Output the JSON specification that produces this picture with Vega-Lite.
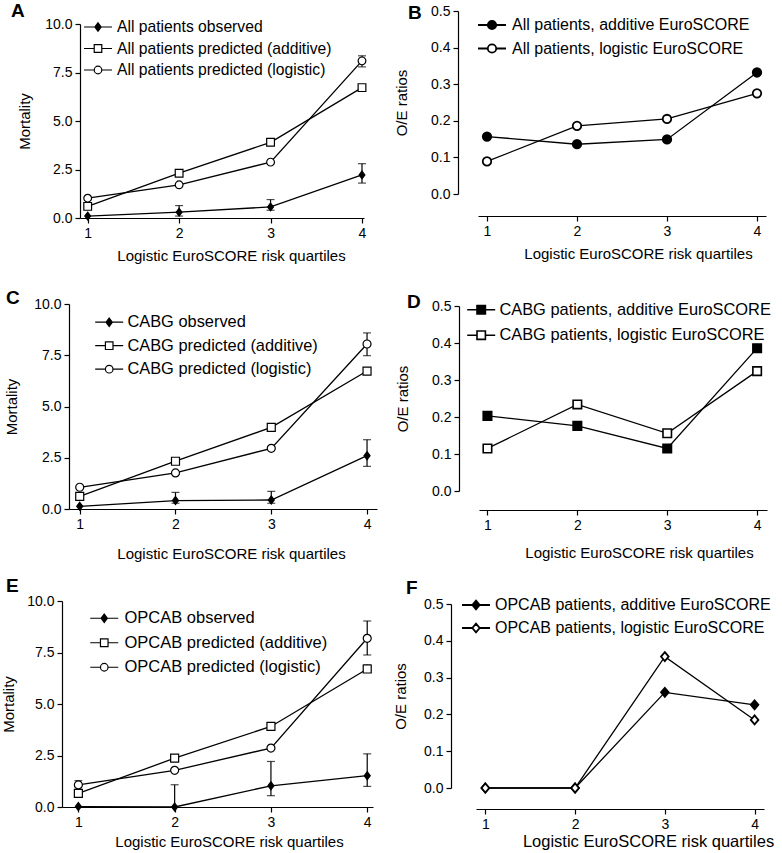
{
  "$schema": "https://vega.github.io/schema/vega-lite/v6.json",
  "background": "white",
  "padding": {"left": 1, "top": 2, "right": 0, "bottom": 0},
  "datasets": {
    "pts": [
      {"p": "A", "s": "All patients observed", "q": 1, "v": 0.1},
      {"p": "A", "s": "All patients observed", "q": 2, "v": 0.3},
      {"p": "A", "s": "All patients observed", "q": 3, "v": 0.57},
      {"p": "A", "s": "All patients observed", "q": 4, "v": 2.22},
      {"p": "A", "s": "All patients predicted (additive)", "q": 1, "v": 0.6},
      {"p": "A", "s": "All patients predicted (additive)", "q": 2, "v": 2.31},
      {"p": "A", "s": "All patients predicted (additive)", "q": 3, "v": 3.9},
      {"p": "A", "s": "All patients predicted (additive)", "q": 4, "v": 6.72},
      {"p": "A", "s": "All patients predicted (logistic)", "q": 1, "v": 1.02},
      {"p": "A", "s": "All patients predicted (logistic)", "q": 2, "v": 1.71},
      {"p": "A", "s": "All patients predicted (logistic)", "q": 3, "v": 2.88},
      {"p": "A", "s": "All patients predicted (logistic)", "q": 4, "v": 8.1},
      {"p": "B", "s": "All patients, additive EuroSCORE", "q": 1, "v": 0.157},
      {"p": "B", "s": "All patients, additive EuroSCORE", "q": 2, "v": 0.136},
      {"p": "B", "s": "All patients, additive EuroSCORE", "q": 3, "v": 0.149},
      {"p": "B", "s": "All patients, additive EuroSCORE", "q": 4, "v": 0.332},
      {"p": "B", "s": "All patients, logistic EuroSCORE", "q": 1, "v": 0.089},
      {"p": "B", "s": "All patients, logistic EuroSCORE", "q": 2, "v": 0.186},
      {"p": "B", "s": "All patients, logistic EuroSCORE", "q": 3, "v": 0.205},
      {"p": "B", "s": "All patients, logistic EuroSCORE", "q": 4, "v": 0.275},
      {"p": "C", "s": "CABG observed", "q": 1, "v": 0.13},
      {"p": "C", "s": "CABG observed", "q": 2, "v": 0.41},
      {"p": "C", "s": "CABG observed", "q": 3, "v": 0.44},
      {"p": "C", "s": "CABG observed", "q": 4, "v": 2.6},
      {"p": "C", "s": "CABG predicted (additive)", "q": 1, "v": 0.62},
      {"p": "C", "s": "CABG predicted (additive)", "q": 2, "v": 2.33},
      {"p": "C", "s": "CABG predicted (additive)", "q": 3, "v": 3.98},
      {"p": "C", "s": "CABG predicted (additive)", "q": 4, "v": 6.73},
      {"p": "C", "s": "CABG predicted (logistic)", "q": 1, "v": 1.06},
      {"p": "C", "s": "CABG predicted (logistic)", "q": 2, "v": 1.76},
      {"p": "C", "s": "CABG predicted (logistic)", "q": 3, "v": 2.96},
      {"p": "C", "s": "CABG predicted (logistic)", "q": 4, "v": 8.05},
      {"p": "D", "s": "CABG patients, additive EuroSCORE", "q": 1, "v": 0.203},
      {"p": "D", "s": "CABG patients, additive EuroSCORE", "q": 2, "v": 0.176},
      {"p": "D", "s": "CABG patients, additive EuroSCORE", "q": 3, "v": 0.115},
      {"p": "D", "s": "CABG patients, additive EuroSCORE", "q": 4, "v": 0.386},
      {"p": "D", "s": "CABG patients, logistic EuroSCORE", "q": 1, "v": 0.115},
      {"p": "D", "s": "CABG patients, logistic EuroSCORE", "q": 2, "v": 0.234},
      {"p": "D", "s": "CABG patients, logistic EuroSCORE", "q": 3, "v": 0.156},
      {"p": "D", "s": "CABG patients, logistic EuroSCORE", "q": 4, "v": 0.324},
      {"p": "E", "s": "OPCAB observed", "q": 1, "v": 0.02},
      {"p": "E", "s": "OPCAB observed", "q": 2, "v": 0},
      {"p": "E", "s": "OPCAB observed", "q": 3, "v": 1.03},
      {"p": "E", "s": "OPCAB observed", "q": 4, "v": 1.52},
      {"p": "E", "s": "OPCAB predicted (additive)", "q": 1, "v": 0.66},
      {"p": "E", "s": "OPCAB predicted (additive)", "q": 2, "v": 2.37},
      {"p": "E", "s": "OPCAB predicted (additive)", "q": 3, "v": 3.91},
      {"p": "E", "s": "OPCAB predicted (additive)", "q": 4, "v": 6.7},
      {"p": "E", "s": "OPCAB predicted (logistic)", "q": 1, "v": 1.07},
      {"p": "E", "s": "OPCAB predicted (logistic)", "q": 2, "v": 1.78},
      {"p": "E", "s": "OPCAB predicted (logistic)", "q": 3, "v": 2.86},
      {"p": "E", "s": "OPCAB predicted (logistic)", "q": 4, "v": 8.19},
      {"p": "F", "s": "OPCAB patients, additive EuroSCORE", "q": 1, "v": 0},
      {"p": "F", "s": "OPCAB patients, additive EuroSCORE", "q": 2, "v": 0},
      {"p": "F", "s": "OPCAB patients, additive EuroSCORE", "q": 3, "v": 0.26},
      {"p": "F", "s": "OPCAB patients, additive EuroSCORE", "q": 4, "v": 0.226},
      {"p": "F", "s": "OPCAB patients, logistic EuroSCORE", "q": 1, "v": 0},
      {"p": "F", "s": "OPCAB patients, logistic EuroSCORE", "q": 2, "v": 0},
      {"p": "F", "s": "OPCAB patients, logistic EuroSCORE", "q": 3, "v": 0.357},
      {"p": "F", "s": "OPCAB patients, logistic EuroSCORE", "q": 4, "v": 0.185}
    ],
    "err": [
      {"p": "A", "q": 2, "v": 0.1, "hi": 0.64},
      {"p": "A", "q": 3, "v": 0.4, "hi": 0.95},
      {"p": "A", "q": 4, "v": 1.8, "hi": 2.8},
      {"p": "A", "q": 4, "v": 7.79, "hi": 8.36},
      {"p": "C", "q": 2, "v": 0.28, "hi": 0.81},
      {"p": "C", "q": 3, "v": 0.28, "hi": 0.86},
      {"p": "C", "q": 4, "v": 2.08, "hi": 3.38},
      {"p": "C", "q": 4, "v": 7.48, "hi": 8.59},
      {"p": "E", "q": 2, "v": 0, "hi": 1.08},
      {"p": "E", "q": 3, "v": 0.55, "hi": 2.21},
      {"p": "E", "q": 4, "v": 1.0, "hi": 2.58},
      {"p": "E", "q": 4, "v": 6.54, "hi": 6.9},
      {"p": "E", "q": 1, "v": 0.84, "hi": 1.28},
      {"p": "E", "q": 4, "v": 7.38, "hi": 9.03}
    ]
  },
  "spacing": 16,
  "vconcat": [
    {
      "spacing": 26,
      "vconcat": [
        {
          "spacing": 25,
          "hconcat": [
            {
              "width": 302, "height": 207,
              "title": {"text": "A", "dx": -51, "offset": -10},
              "encoding": {
                "x": {"field": "q", "type": "quantitative", "scale": {"domain": [0.916, 4.022], "range": [18, 302], "nice": false, "zero": false},
                      "axis": {"values": [1, 2, 3, 4], "format": "d", "title": "Logistic EuroSCORE risk quartiles", "titleX": 169, "titlePadding": 8}},
                "y": {"field": "v", "type": "quantitative", "scale": {"domain": [0, 10], "range": [207, 13], "nice": false},
                      "axis": {"values": [0, 2.5, 5, 7.5, 10], "format": ".1f", "title": "Mortality", "titlePadding": 12, "offset": -18}}
              },
              "layer": [
                {"data": {"name": "err"}, "transform": [{"filter": "datum.p == 'A'"}],
                 "mark": {"type": "rule", "color": "black", "strokeWidth": 1.2}, "encoding": {"y2": {"field": "hi"}}},
                {"data": {"name": "err"}, "transform": [{"filter": "datum.p == 'A'"}, {"fold": ["v", "hi"], "as": ["k", "v"]}],
                 "mark": {"type": "tick", "orient": "horizontal", "color": "black", "size": 8, "thickness": 1.2}},
                {"data": {"name": "pts"}, "transform": [{"filter": "datum.p == 'A'"}],
                 "mark": {"type": "line", "color": "black", "strokeWidth": 1.3}, "encoding": {"detail": {"field": "s"}}},
                {"data": {"name": "pts"}, "transform": [{"filter": "datum.p == 'A'"}],
                 "mark": {"type": "point", "filled": true, "stroke": "black", "strokeWidth": 1.2, "opacity": 1, "size": 60},
                 "encoding": {
                   "shape": {"field": "s", "legend": null, "scale": {"domain": ["All patients observed", "All patients predicted (additive)", "All patients predicted (logistic)"], "range": ["M0,-1L0.75,0L0,1L-0.75,0Z", "square", "circle"]}},
                   "fill": {"field": "s", "legend": null, "scale": {"domain": ["All patients observed", "All patients predicted (additive)", "All patients predicted (logistic)"], "range": ["black", "white", "white"]}}
                 }},
                {"data": {"name": "pts"}, "transform": [{"filter": "datum.p == 'none'"}],
                 "mark": {"type": "point", "filled": true, "strokeWidth": 1.2, "opacity": 1},
                 "encoding": {
                   "shape": {"field": "s", "scale": {"domain": ["All patients observed", "All patients predicted (additive)", "All patients predicted (logistic)"], "range": ["M-2,0H2M0,-0.6L0.45,0L0,0.6L-0.45,0Z", "M-2,0H-0.54M0.54,0H2M-0.54,-0.54H0.54V0.54H-0.54Z", "M-2,0H-0.54M0.54,0H2M0.54,0C0.54,0.3 0.3,0.54 0,0.54C-0.3,0.54 -0.54,0.3 -0.54,0C-0.54,-0.3 -0.3,-0.54 0,-0.54C0.3,-0.54 0.54,-0.3 0.54,0Z"]},
                             "legend": {"orient": "none", "legendX": 28, "legendY": 8, "title": null, "symbolSize": 196, "labelFontSize": 15.7, "labelOffset": 11, "rowPadding": 5.5, "symbolStrokeWidth": 1.2}},
                   "fill": {"field": "s", "scale": {"domain": ["All patients observed", "All patients predicted (additive)", "All patients predicted (logistic)"], "range": ["black", "white", "white"]},
                            "legend": {"orient": "none", "legendX": 28, "legendY": 8, "title": null, "symbolSize": 196, "labelFontSize": 15.7, "labelOffset": 11, "rowPadding": 5.5, "symbolStrokeWidth": 1.2}},
                   "stroke": {"field": "s", "scale": {"domain": ["All patients observed", "All patients predicted (additive)", "All patients predicted (logistic)"], "range": ["black", "black", "black"]},
                            "legend": {"orient": "none", "legendX": 28, "legendY": 8, "title": null, "symbolSize": 196, "labelFontSize": 15.7, "labelOffset": 11, "rowPadding": 5.5, "symbolStrokeWidth": 1.2}}
                 }}
              ],
              "resolve": {"scale": {"shape": "independent", "fill": "independent", "stroke": "independent"}}
            },
            {
              "width": 288, "height": 183,
              "title": {"text": "B", "dx": -70, "offset": -19},
              "encoding": {
                "x": {"field": "q", "type": "quantitative", "scale": {"domain": [0.9, 4.1], "nice": false, "zero": false},
                      "axis": {"values": [1, 2, 3, 4], "format": "d", "title": "Logistic EuroSCORE risk quartiles", "titleX": 160, "titlePadding": 8, "offset": 22}},
                "y": {"field": "v", "type": "quantitative", "scale": {"domain": [0, 0.5], "nice": false},
                      "axis": {"values": [0, 0.1, 0.2, 0.3, 0.4, 0.5], "format": ".1f", "title": "O/E ratios", "titlePadding": 21, "offset": 20}}
              },
              "layer": [
                {"data": {"name": "pts"}, "transform": [{"filter": "datum.p == 'B'"}],
                 "mark": {"type": "line", "color": "black", "strokeWidth": 1.3}, "encoding": {"detail": {"field": "s"}}},
                {"data": {"name": "pts"}, "transform": [{"filter": "datum.p == 'B'"}],
                 "mark": {"type": "point", "filled": true, "stroke": "black", "strokeWidth": 1.8, "opacity": 1, "size": 72},
                 "encoding": {
                   "shape": {"field": "s", "legend": null, "scale": {"domain": ["All patients, additive EuroSCORE", "All patients, logistic EuroSCORE"], "range": ["circle", "circle"]}},
                   "fill": {"field": "s", "legend": null, "scale": {"domain": ["All patients, additive EuroSCORE", "All patients, logistic EuroSCORE"], "range": ["black", "white"]}}
                 }},
                {"data": {"name": "pts"}, "transform": [{"filter": "datum.p == 'none'"}],
                 "mark": {"type": "point", "filled": true, "strokeWidth": 1.8, "opacity": 1},
                 "encoding": {
                   "shape": {"field": "s", "scale": {"domain": ["All patients, additive EuroSCORE", "All patients, logistic EuroSCORE"], "range": ["M-2,0H-0.6M0.6,0H2M0.6,0C0.6,0.33 0.33,0.6 0,0.6C-0.33,0.6 -0.6,0.33 -0.6,0C-0.6,-0.33 -0.33,-0.6 0,-0.6C0.33,-0.6 0.6,-0.33 0.6,0Z", "M-2,0H-0.6M0.6,0H2M0.6,0C0.6,0.33 0.33,0.6 0,0.6C-0.33,0.6 -0.6,0.33 -0.6,0C-0.6,-0.33 -0.33,-0.6 0,-0.6C0.33,-0.6 0.6,-0.33 0.6,0Z"]},
                             "legend": {"orient": "none", "legendX": 6, "legendY": 6, "title": null, "symbolSize": 196, "labelFontSize": 16, "labelOffset": 12, "rowPadding": 7.5, "symbolStrokeWidth": 1.8}},
                   "fill": {"field": "s", "scale": {"domain": ["All patients, additive EuroSCORE", "All patients, logistic EuroSCORE"], "range": ["black", "white"]},
                            "legend": {"orient": "none", "legendX": 6, "legendY": 6, "title": null, "symbolSize": 196, "labelFontSize": 16, "labelOffset": 12, "rowPadding": 7.5, "symbolStrokeWidth": 1.8}},
                   "stroke": {"field": "s", "scale": {"domain": ["All patients, additive EuroSCORE", "All patients, logistic EuroSCORE"], "range": ["black", "black"]},
                            "legend": {"orient": "none", "legendX": 6, "legendY": 6, "title": null, "symbolSize": 196, "labelFontSize": 16, "labelOffset": 12, "rowPadding": 7.5, "symbolStrokeWidth": 1.8}}
                 }}
              ],
              "resolve": {"scale": {"shape": "independent", "fill": "independent", "stroke": "independent"}}
            }
          ]
        },
        {
          "spacing": 18,
          "hconcat": [
            {
              "width": 315, "height": 205,
              "title": {"text": "C", "dx": -56, "offset": -11},
              "encoding": {
                "x": {"field": "q", "type": "quantitative", "scale": {"domain": [0.888, 4.104], "range": [7, 315], "nice": false, "zero": false},
                      "axis": {"values": [1, 2, 3, 4], "format": "d", "title": "Logistic EuroSCORE risk quartiles", "titleX": 169, "titlePadding": 15}},
                "y": {"field": "v", "type": "quantitative", "scale": {"domain": [0, 10], "nice": false},
                      "axis": {"values": [0, 2.5, 5, 7.5, 10], "format": ".1f", "title": "Mortality", "titlePadding": 14, "offset": -7}}
              },
              "layer": [
                {"data": {"name": "err"}, "transform": [{"filter": "datum.p == 'C'"}],
                 "mark": {"type": "rule", "color": "black", "strokeWidth": 1.2}, "encoding": {"y2": {"field": "hi"}}},
                {"data": {"name": "err"}, "transform": [{"filter": "datum.p == 'C'"}, {"fold": ["v", "hi"], "as": ["k", "v"]}],
                 "mark": {"type": "tick", "orient": "horizontal", "color": "black", "size": 8, "thickness": 1.2}},
                {"data": {"name": "pts"}, "transform": [{"filter": "datum.p == 'C'"}],
                 "mark": {"type": "line", "color": "black", "strokeWidth": 1.3}, "encoding": {"detail": {"field": "s"}}},
                {"data": {"name": "pts"}, "transform": [{"filter": "datum.p == 'C'"}],
                 "mark": {"type": "point", "filled": true, "stroke": "black", "strokeWidth": 1.2, "opacity": 1, "size": 64},
                 "encoding": {
                   "shape": {"field": "s", "legend": null, "scale": {"domain": ["CABG observed", "CABG predicted (additive)", "CABG predicted (logistic)"], "range": ["M0,-1L0.75,0L0,1L-0.75,0Z", "square", "circle"]}},
                   "fill": {"field": "s", "legend": null, "scale": {"domain": ["CABG observed", "CABG predicted (additive)", "CABG predicted (logistic)"], "range": ["black", "white", "white"]}}
                 }},
                {"data": {"name": "pts"}, "transform": [{"filter": "datum.p == 'none'"}],
                 "mark": {"type": "point", "filled": true, "strokeWidth": 1.2, "opacity": 1},
                 "encoding": {
                   "shape": {"field": "s", "scale": {"domain": ["CABG observed", "CABG predicted (additive)", "CABG predicted (logistic)"], "range": ["M-2,0H2M0,-0.6L0.45,0L0,0.6L-0.45,0Z", "M-2,0H-0.54M0.54,0H2M-0.54,-0.54H0.54V0.54H-0.54Z", "M-2,0H-0.54M0.54,0H2M0.54,0C0.54,0.3 0.3,0.54 0,0.54C-0.3,0.54 -0.54,0.3 -0.54,0C-0.54,-0.3 -0.3,-0.54 0,-0.54C0.3,-0.54 0.54,-0.3 0.54,0Z"]},
                             "legend": {"orient": "none", "legendX": 39, "legendY": 10, "title": null, "symbolSize": 196, "labelFontSize": 16.4, "labelOffset": 10, "rowPadding": 6.5, "symbolStrokeWidth": 1.2}},
                   "fill": {"field": "s", "scale": {"domain": ["CABG observed", "CABG predicted (additive)", "CABG predicted (logistic)"], "range": ["black", "white", "white"]},
                            "legend": {"orient": "none", "legendX": 39, "legendY": 10, "title": null, "symbolSize": 196, "labelFontSize": 16.4, "labelOffset": 10, "rowPadding": 6.5, "symbolStrokeWidth": 1.2}},
                   "stroke": {"field": "s", "scale": {"domain": ["CABG observed", "CABG predicted (additive)", "CABG predicted (logistic)"], "range": ["black", "black", "black"]},
                            "legend": {"orient": "none", "legendX": 39, "legendY": 10, "title": null, "symbolSize": 196, "labelFontSize": 16.4, "labelOffset": 10, "rowPadding": 6.5, "symbolStrokeWidth": 1.2}}
                 }}
              ],
              "resolve": {"scale": {"shape": "independent", "fill": "independent", "stroke": "independent"}}
            },
            {
              "width": 288, "height": 187,
              "title": {"text": "D", "dx": -72, "offset": -13},
              "encoding": {
                "x": {"field": "q", "type": "quantitative", "scale": {"domain": [0.906, 4.11], "nice": false, "zero": false},
                      "axis": {"values": [1, 2, 3, 4], "format": "d", "title": "Logistic EuroSCORE risk quartiles", "titleX": 160, "titlePadding": 13, "offset": 19}},
                "y": {"field": "v", "type": "quantitative", "scale": {"domain": [0, 0.5], "range": [187, 2], "nice": false},
                      "axis": {"values": [0, 0.1, 0.2, 0.3, 0.4, 0.5], "format": ".1f", "title": "O/E ratios", "titlePadding": 21, "offset": 20}}
              },
              "layer": [
                {"data": {"name": "pts"}, "transform": [{"filter": "datum.p == 'D'"}],
                 "mark": {"type": "line", "color": "black", "strokeWidth": 1.3}, "encoding": {"detail": {"field": "s"}}},
                {"data": {"name": "pts"}, "transform": [{"filter": "datum.p == 'D'"}],
                 "mark": {"type": "point", "filled": true, "stroke": "black", "strokeWidth": 1.6, "opacity": 1, "size": 72},
                 "encoding": {
                   "shape": {"field": "s", "legend": null, "scale": {"domain": ["CABG patients, additive EuroSCORE", "CABG patients, logistic EuroSCORE"], "range": ["square", "square"]}},
                   "fill": {"field": "s", "legend": null, "scale": {"domain": ["CABG patients, additive EuroSCORE", "CABG patients, logistic EuroSCORE"], "range": ["black", "white"]}}
                 }},
                {"data": {"name": "pts"}, "transform": [{"filter": "datum.p == 'none'"}],
                 "mark": {"type": "point", "filled": true, "strokeWidth": 1.6, "opacity": 1},
                 "encoding": {
                   "shape": {"field": "s", "scale": {"domain": ["CABG patients, additive EuroSCORE", "CABG patients, logistic EuroSCORE"], "range": ["M-2,0H-0.6M0.6,0H2M-0.6,-0.6H0.6V0.6H-0.6Z", "M-2,0H-0.6M0.6,0H2M-0.6,-0.6H0.6V0.6H-0.6Z"]},
                             "legend": {"orient": "none", "legendX": -6, "legendY": -2.5, "title": null, "symbolSize": 196, "labelFontSize": 16.4, "labelOffset": 10, "rowPadding": 8.5, "symbolStrokeWidth": 1.6}},
                   "fill": {"field": "s", "scale": {"domain": ["CABG patients, additive EuroSCORE", "CABG patients, logistic EuroSCORE"], "range": ["black", "white"]},
                            "legend": {"orient": "none", "legendX": -6, "legendY": -2.5, "title": null, "symbolSize": 196, "labelFontSize": 16.4, "labelOffset": 10, "rowPadding": 8.5, "symbolStrokeWidth": 1.6}},
                   "stroke": {"field": "s", "scale": {"domain": ["CABG patients, additive EuroSCORE", "CABG patients, logistic EuroSCORE"], "range": ["black", "black"]},
                            "legend": {"orient": "none", "legendX": -6, "legendY": -2.5, "title": null, "symbolSize": 196, "labelFontSize": 16.4, "labelOffset": 10, "rowPadding": 8.5, "symbolStrokeWidth": 1.6}}
                 }}
              ],
              "resolve": {"scale": {"shape": "independent", "fill": "independent", "stroke": "independent"}}
            }
          ]
        }
      ]
    },
    {
      "spacing": 19,
      "hconcat": [
        {
          "width": 311, "height": 206,
          "title": {"text": "E", "dx": -56, "offset": -2},
          "encoding": {
            "x": {"field": "q", "type": "quantitative", "scale": {"domain": [0.83, 4.06], "nice": false, "zero": false},
                  "axis": {"values": [1, 2, 3, 4], "format": "d", "title": "Logistic EuroSCORE risk quartiles", "titleX": 167, "titlePadding": 5}},
            "y": {"field": "v", "type": "quantitative", "scale": {"domain": [0, 10], "nice": false},
                  "axis": {"values": [0, 2.5, 5, 7.5, 10], "format": ".1f", "title": "Mortality", "titlePadding": 10}}
          },
          "layer": [
            {"data": {"name": "err"}, "transform": [{"filter": "datum.p == 'E'"}],
             "mark": {"type": "rule", "color": "black", "strokeWidth": 1.2}, "encoding": {"y2": {"field": "hi"}}},
            {"data": {"name": "err"}, "transform": [{"filter": "datum.p == 'E'"}, {"fold": ["v", "hi"], "as": ["k", "v"]}],
             "mark": {"type": "tick", "orient": "horizontal", "color": "black", "size": 8, "thickness": 1.2}},
            {"data": {"name": "pts"}, "transform": [{"filter": "datum.p == 'E'"}],
             "mark": {"type": "line", "color": "black", "strokeWidth": 1.3}, "encoding": {"detail": {"field": "s"}}},
            {"data": {"name": "pts"}, "transform": [{"filter": "datum.p == 'E'"}],
             "mark": {"type": "point", "filled": true, "stroke": "black", "strokeWidth": 1.2, "opacity": 1, "size": 64},
             "encoding": {
               "shape": {"field": "s", "legend": null, "scale": {"domain": ["OPCAB observed", "OPCAB predicted (additive)", "OPCAB predicted (logistic)"], "range": ["M0,-1L0.75,0L0,1L-0.75,0Z", "square", "circle"]}},
               "fill": {"field": "s", "legend": null, "scale": {"domain": ["OPCAB observed", "OPCAB predicted (additive)", "OPCAB predicted (logistic)"], "range": ["black", "white", "white"]}}
             }},
            {"data": {"name": "pts"}, "transform": [{"filter": "datum.p == 'none'"}],
             "mark": {"type": "point", "filled": true, "strokeWidth": 1.2, "opacity": 1},
             "encoding": {
               "shape": {"field": "s", "scale": {"domain": ["OPCAB observed", "OPCAB predicted (additive)", "OPCAB predicted (logistic)"], "range": ["M-2,0H2M0,-0.6L0.45,0L0,0.6L-0.45,0Z", "M-2,0H-0.54M0.54,0H2M-0.54,-0.54H0.54V0.54H-0.54Z", "M-2,0H-0.54M0.54,0H2M0.54,0C0.54,0.3 0.3,0.54 0,0.54C-0.3,0.54 -0.54,0.3 -0.54,0C-0.54,-0.3 -0.3,-0.54 0,-0.54C0.3,-0.54 0.54,-0.3 0.54,0Z"]},
                         "legend": {"orient": "none", "legendX": 34, "legendY": 9, "title": null, "symbolSize": 196, "labelFontSize": 16.5, "labelOffset": 12, "rowPadding": 7.5, "symbolStrokeWidth": 1.2}},
               "fill": {"field": "s", "scale": {"domain": ["OPCAB observed", "OPCAB predicted (additive)", "OPCAB predicted (logistic)"], "range": ["black", "white", "white"]},
                        "legend": {"orient": "none", "legendX": 34, "legendY": 9, "title": null, "symbolSize": 196, "labelFontSize": 16.5, "labelOffset": 12, "rowPadding": 7.5, "symbolStrokeWidth": 1.2}},
               "stroke": {"field": "s", "scale": {"domain": ["OPCAB observed", "OPCAB predicted (additive)", "OPCAB predicted (logistic)"], "range": ["black", "black", "black"]},
                        "legend": {"orient": "none", "legendX": 34, "legendY": 9, "title": null, "symbolSize": 196, "labelFontSize": 16.5, "labelOffset": 12, "rowPadding": 7.5, "symbolStrokeWidth": 1.2}}
             }}
          ],
          "resolve": {"scale": {"shape": "independent", "fill": "independent", "stroke": "independent"}}
        },
        {
          "width": 288, "height": 187,
          "title": {"text": "F", "dx": -70, "offset": -0.5},
          "encoding": {
            "x": {"field": "q", "type": "quantitative", "scale": {"domain": [0.896, 4.105], "nice": false, "zero": false},
                  "axis": {"values": [1, 2, 3, 4], "format": "d", "title": "Logistic EuroSCORE risk quartiles", "titleX": 172, "titlePadding": 2, "titleFontSize": 16.5, "offset": 21}},
            "y": {"field": "v", "type": "quantitative", "scale": {"domain": [0, 0.5], "range": [187, 3], "nice": false},
                  "axis": {"values": [0, 0.1, 0.2, 0.3, 0.4, 0.5], "format": ".1f", "title": "O/E ratios", "titlePadding": 15, "offset": 25}}
          },
          "layer": [
            {"data": {"name": "pts"}, "transform": [{"filter": "datum.p == 'F'"}],
             "mark": {"type": "line", "color": "black", "strokeWidth": 1.3}, "encoding": {"detail": {"field": "s"}}},
            {"data": {"name": "pts"}, "transform": [{"filter": "datum.p == 'F'"}],
             "mark": {"type": "point", "filled": true, "stroke": "black", "strokeWidth": 1.8, "opacity": 1, "size": 81},
             "encoding": {
               "shape": {"field": "s", "legend": null, "scale": {"domain": ["OPCAB patients, additive EuroSCORE", "OPCAB patients, logistic EuroSCORE"], "range": ["M0,-1L0.85,0L0,1L-0.85,0Z", "M0,-1L0.85,0L0,1L-0.85,0Z"]}},
               "fill": {"field": "s", "legend": null, "scale": {"domain": ["OPCAB patients, additive EuroSCORE", "OPCAB patients, logistic EuroSCORE"], "range": ["black", "white"]}}
             }},
            {"data": {"name": "pts"}, "transform": [{"filter": "datum.p == 'none'"}],
             "mark": {"type": "point", "filled": true, "strokeWidth": 1.8, "opacity": 1},
             "encoding": {
               "shape": {"field": "s", "scale": {"domain": ["OPCAB patients, additive EuroSCORE", "OPCAB patients, logistic EuroSCORE"], "range": ["M-2,0H2M0,-0.62L0.52,0L0,0.62L-0.52,0Z", "M-2,0H-0.52M0.52,0H2M0,-0.62L0.52,0L0,0.62L-0.52,0Z"]},
                         "legend": {"orient": "none", "legendX": -8, "legendY": -4, "title": null, "symbolSize": 196, "labelFontSize": 16, "labelOffset": 11, "rowPadding": 7, "symbolStrokeWidth": 1.8}},
               "fill": {"field": "s", "scale": {"domain": ["OPCAB patients, additive EuroSCORE", "OPCAB patients, logistic EuroSCORE"], "range": ["black", "white"]},
                        "legend": {"orient": "none", "legendX": -8, "legendY": -4, "title": null, "symbolSize": 196, "labelFontSize": 16, "labelOffset": 11, "rowPadding": 7, "symbolStrokeWidth": 1.8}},
               "stroke": {"field": "s", "scale": {"domain": ["OPCAB patients, additive EuroSCORE", "OPCAB patients, logistic EuroSCORE"], "range": ["black", "black"]},
                        "legend": {"orient": "none", "legendX": -8, "legendY": -4, "title": null, "symbolSize": 196, "labelFontSize": 16, "labelOffset": 11, "rowPadding": 7, "symbolStrokeWidth": 1.8}}
             }}
          ],
          "resolve": {"scale": {"shape": "independent", "fill": "independent", "stroke": "independent"}}
        }
      ]
    }
  ],
  "config": {
    "font": "Liberation Sans",
    "view": {"stroke": null},
    "axis": {"domainColor": "black", "domainWidth": 1.2, "tickColor": "black", "tickWidth": 1.2, "tickSize": 5,
             "labelColor": "black", "labelFontSize": 14, "labelFont": "Liberation Sans", "titleFont": "Liberation Sans",
             "titleFontSize": 15, "titleFontWeight": "normal", "titleColor": "black", "grid": false,
             "labelFlush": false, "labelOverlap": false, "labelPadding": 3},
    "title": {"fontSize": 19, "fontWeight": "bold", "color": "black", "font": "Liberation Sans", "anchor": "start", "frame": "group"},
    "legend": {"labelFont": "Liberation Sans", "labelColor": "black", "padding": 0, "labelLimit": 500}
  }
}
